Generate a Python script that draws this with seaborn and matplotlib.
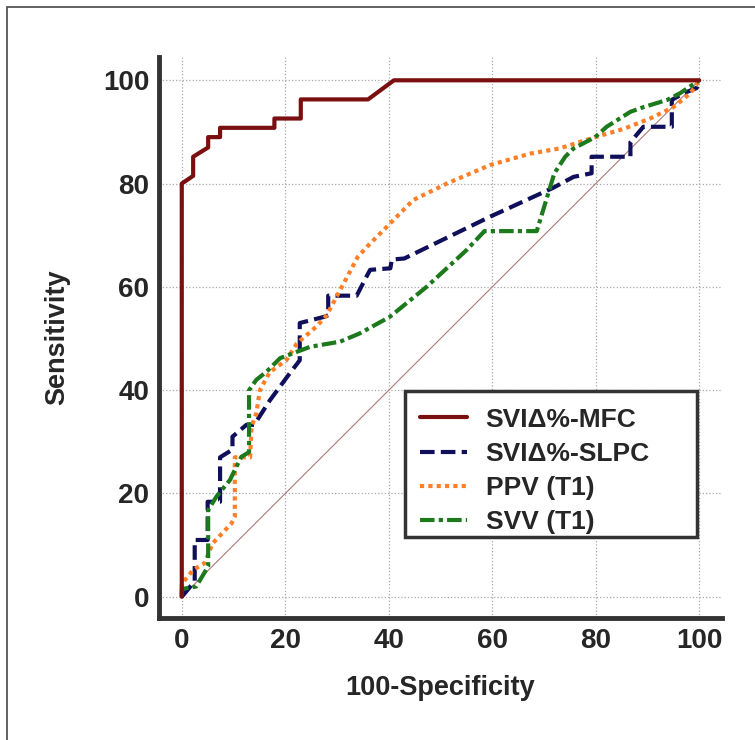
import pandas as pd
import matplotlib
matplotlib.use('Agg')
import matplotlib.pyplot as plt
import matplotlib.patches as mpatches
from matplotlib.ticker import MultipleLocator
import seaborn as sns

# ROC curves (x = 100-Specificity, y = Sensitivity)
mfc_x = [0, 0, 2.2, 2.2, 5.1, 5.1, 7.4, 7.4, 17.9, 17.9, 23, 23, 36, 41, 100]
mfc_y = [0, 80, 81.5, 85.2, 87, 89, 89, 90.8, 90.8, 92.6, 92.6, 96.3, 96.3, 100, 100]

slpc_x = [0, 2.5, 2.5, 5, 5, 7.4, 7.4, 9.8, 9.8, 12.5, 14, 17, 20.3, 22.8, 22.8, 27.5, 28.3, 28.3,
          33.8, 35.7, 36.4, 40.3, 40.6, 43, 59.6, 71.8, 75.7, 79.2, 79.2, 86.7, 86.7, 89.2, 94.7,
          94.7, 97, 99.5, 100]
slpc_y = [0, 3, 11, 11, 18.4, 18.4, 27, 28.5, 31, 33.3, 33.3, 38, 42.5, 45.8, 53, 54.2, 54.5, 58.3,
          58.3, 62, 63.3, 63.6, 65.3, 65.5, 73.6, 79.2, 81.3, 82, 85.2, 85.2, 88, 91, 91,
          96.2, 97.5, 98.5, 100]

ppv_x = [0, 0, 2.2, 4.4, 6, 9.6, 10.25, 10.25, 13.2, 13.5, 14.4, 15.1, 17, 20.2, 22.2, 26, 28, 30.6,
         32, 34, 36.4, 39, 44.7, 51.2, 59.6, 67.3, 73, 79.9, 85.4, 90.5, 95, 98.3, 100]
ppv_y = [0, 2.5, 5.2, 6.5, 10.4, 14.2, 15.5, 27, 27, 33, 35.5, 40, 43.5, 45.8, 49, 52.3, 54.5, 59.4,
         62, 65.8, 68.4, 71, 76.8, 80, 83.6, 85.8, 86.8, 89, 90.6, 92.6, 94.8, 97.5, 100]

svv_x = [0, 0, 2.8, 5.1, 5.1, 6.7, 9.3, 11.5, 13, 13, 14.4, 16.4, 19, 24.8, 30.6, 34.4, 40.2, 47.3,
         55, 58.5, 68.6, 72, 74.1, 75.7, 79.9, 82.1, 86.7, 89.2, 93.8, 96.3, 100]
svv_y = [0, 1.5, 2, 5.9, 16.8, 19.4, 22.6, 27.1, 28, 40, 42, 43.6, 46.2, 48.4, 49.4, 51, 54.2, 60,
         67.1, 70.8, 70.8, 82, 85.2, 86.8, 89, 91, 93.9, 94.8, 96.2, 97.5, 100]

labels = ['SVI\u0394%-MFC', 'SVI\u0394%-SLPC', 'PPV (T1)', 'SVV (T1)']
colors = ['#7a0f0f', '#0f0f5c', '#ff7f27', '#1c7a1c']

sns.set_style('white')
plt.rcParams['font.family'] = ['Liberation Sans', 'DejaVu Sans']
plt.rcParams['font.weight'] = 'bold'

fig = plt.figure(figsize=(7.55, 7.4), dpi=100)
ax = fig.add_axes([0.2106, 0.1649, 0.7457, 0.758])

# figure frame
fig.patches.append(mpatches.Rectangle((0.0093, -0.2), 1.2, 1.1905, transform=fig.transFigure,
                                      fill=False, edgecolor='#555555', linewidth=1.3, clip_on=False))

# reference diagonal
ax.plot([0, 100], [0, 100], color='#b07a7a', linewidth=0.8, zorder=2)

lw = 3.0
curves = {}
curves['slpc'] = sns.lineplot(x=slpc_x, y=slpc_y, sort=False, estimator=None, ax=ax, color=colors[1],
                              linewidth=lw, linestyle=(0, (3.5, 1.5)), zorder=3).lines[-1]
curves['ppv'] = sns.lineplot(x=ppv_x, y=ppv_y, sort=False, estimator=None, ax=ax, color=colors[2],
                             linewidth=lw, linestyle=(0, (1, 1)), zorder=4).lines[-1]
curves['svv'] = sns.lineplot(x=svv_x, y=svv_y, sort=False, estimator=None, ax=ax, color=colors[3],
                             linewidth=lw, linestyle=(0, (3.5, 1, 1, 1)), zorder=5).lines[-1]
curves['mfc'] = sns.lineplot(x=mfc_x, y=mfc_y, sort=False, estimator=None, ax=ax, color=colors[0],
                             linewidth=lw, linestyle='-', zorder=6).lines[-1]
for ln in curves.values():
    ln.set_dash_capstyle('butt')

ax.set_xlim(-4.4, 104.4)
ax.set_ylim(-4.1, 104.5)
ax.xaxis.set_major_locator(MultipleLocator(20))
ax.yaxis.set_major_locator(MultipleLocator(20))
ax.xaxis.set_minor_locator(MultipleLocator(5))
ax.yaxis.set_minor_locator(MultipleLocator(5))
ax.grid(True, which='major', linestyle=':', color='#a8a8a8', linewidth=0.9)
ax.set_axisbelow(True)

for s in ['top', 'right']:
    ax.spines[s].set_visible(False)
for s in ['left', 'bottom']:
    ax.spines[s].set_linewidth(3.5)
    ax.spines[s].set_color('#333333')

ax.tick_params(which='major', direction='in', length=16, width=1.6, color='#333333',
               labelsize=20, pad=7)
ax.tick_params(which='minor', direction='in', length=8, width=1.6, color='#333333')
for t in ax.get_xticklabels() + ax.get_yticklabels():
    t.set_fontweight('bold')

ax.set_xlabel('100-Specificity', fontsize=19.5, fontweight='bold', va='center')
ax.set_ylabel('Sensitivity', fontsize=19.5, fontweight='bold', va='center')
ax.xaxis.set_label_coords(0.5, -0.125)
ax.yaxis.set_label_coords(-0.181, 0.5)

# legend box drawn separately so it can be wider than its text
box = mpatches.Rectangle((0.437, 0.144), 0.519, 0.261, transform=ax.transAxes, facecolor='white',
                         edgecolor='#333333', linewidth=2.5, zorder=7)
ax.add_patch(box)
handles = [curves['mfc'], curves['slpc'], curves['ppv'], curves['svv']]
leg = ax.legend(handles, labels, loc='upper left', bbox_to_anchor=(0.442, 0.396), borderaxespad=0,
                prop={'size': 19, 'weight': 'bold'}, handlelength=1.8, handletextpad=0.7,
                labelspacing=0.38, borderpad=0.45, frameon=False)
leg.set_zorder(8)

fig.savefig('out.png', dpi=100)
